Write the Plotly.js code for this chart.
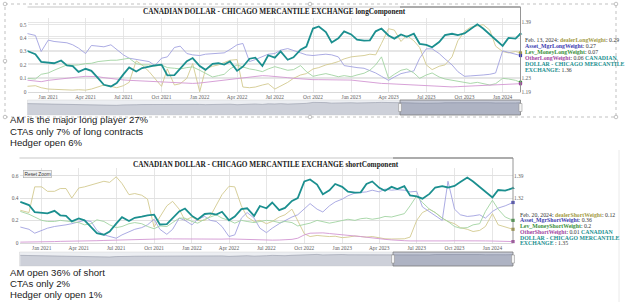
<!DOCTYPE html>
<html><head><meta charset="utf-8">
<script src="https://cdn.plot.ly/plotly-3.0.1.min.js"></script>
<style>html,body{margin:0;padding:0;background:#fff;}#chart{width:625px;height:302px;}</style>
</head><body><div id="chart"></div>
<script>
// ---------- data ----------
const dates = ['2020-11-10','2020-12-01','2020-12-15','2021-01-01','2021-01-15','2021-02-01','2021-02-15','2021-03-01','2021-03-15','2021-04-01','2021-04-15','2021-05-01','2021-05-15','2021-06-01','2021-06-15','2021-07-01','2021-07-15','2021-08-01','2021-08-15','2021-09-01','2021-09-15','2021-10-01','2021-10-15','2021-11-01','2021-11-15','2021-12-01','2021-12-15','2022-01-01','2022-01-15','2022-02-01','2022-02-15','2022-03-01','2022-03-15','2022-04-01','2022-04-15','2022-05-01','2022-05-15','2022-06-01','2022-06-15','2022-07-01','2022-07-15','2022-08-01','2022-08-15','2022-09-01','2022-09-15','2022-10-01','2022-10-15','2022-11-01','2022-11-15','2022-12-01','2022-12-15','2023-01-01','2023-01-15','2023-02-01','2023-02-15','2023-03-01','2023-03-15','2023-04-01','2023-04-15','2023-05-01','2023-05-15','2023-06-01','2023-06-15','2023-07-01','2023-07-15','2023-08-01','2023-08-15','2023-09-01','2023-09-15','2023-10-01','2023-10-15','2023-11-01','2023-11-15','2023-12-01','2023-12-15','2024-01-01','2024-01-15','2024-02-01'];
const longEndDate = '2024-02-13';
const shortEndDate = '2024-02-20';

// CANADIAN DOLLAR - CHICAGO MERCANTILE EXCHANGE (right axis)
const cad = [1.308,1.298,1.276,1.273,1.272,1.280,1.266,1.264,1.247,1.256,1.250,1.229,1.210,1.205,1.215,1.240,1.260,1.248,1.258,1.262,1.266,1.268,1.237,1.238,1.256,1.278,1.287,1.264,1.253,1.270,1.272,1.268,1.277,1.250,1.262,1.285,1.288,1.264,1.295,1.288,1.306,1.282,1.289,1.311,1.320,1.372,1.378,1.362,1.332,1.344,1.364,1.355,1.340,1.337,1.338,1.364,1.372,1.352,1.343,1.355,1.348,1.357,1.328,1.325,1.318,1.333,1.353,1.357,1.353,1.358,1.370,1.384,1.372,1.355,1.341,1.322,1.345,1.343];
const cadLongEnd = 1.357;
const cadShortEnd = 1.351;

// long component weights
const dealerLong = [0.04,0.045,0.03,0.02,0.018,0.015,0.012,0.012,0.015,0.012,0.02,0.035,0.05,0.04,0.03,0.045,0.07,0.23,0.2,0.15,0.1,0.04,0.17,0.05,0.06,0.1,0.21,0.0,0.17,0.19,0.2,0.215,0.235,0.24,0.035,0.03,0.035,0.05,0.06,0.02,0.04,0.07,0.1,0.125,0.135,0.17,0.18,0.2,0.21,0.225,0.245,0.26,0.265,0.27,0.28,0.275,0.36,0.47,0.46,0.375,0.42,0.38,0.33,0.2,0.165,0.19,0.2,0.26,0.38,0.45,0.48,0.49,0.5,0.46,0.34,0.3,0.29,0.3,0.29];
const assetLong = [0.435,0.42,0.30,0.385,0.375,0.37,0.365,0.35,0.325,0.285,0.345,0.34,0.335,0.35,0.315,0.275,0.25,0.24,0.232,0.225,0.195,0.25,0.26,0.33,0.34,0.285,0.275,0.27,0.28,0.285,0.285,0.29,0.315,0.35,0.36,0.225,0.24,0.265,0.28,0.285,0.31,0.322,0.31,0.29,0.275,0.27,0.275,0.28,0.275,0.26,0.195,0.185,0.18,0.175,0.16,0.14,0.115,0.085,0.11,0.135,0.145,0.155,0.25,0.32,0.32,0.285,0.245,0.2,0.15,0.115,0.118,0.12,0.125,0.13,0.14,0.305,0.295,0.28,0.27];
const levLong = [0.10,0.095,0.13,0.14,0.16,0.185,0.20,0.198,0.2,0.21,0.212,0.225,0.23,0.235,0.235,0.24,0.25,0.21,0.2,0.2,0.19,0.2,0.18,0.175,0.17,0.18,0.185,0.16,0.135,0.11,0.12,0.13,0.17,0.2,0.185,0.17,0.163,0.15,0.17,0.187,0.175,0.16,0.165,0.195,0.15,0.115,0.125,0.135,0.125,0.112,0.12,0.112,0.125,0.138,0.16,0.2,0.26,0.1,0.13,0.16,0.17,0.14,0.1,0.125,0.14,0.11,0.095,0.085,0.075,0.065,0.062,0.07,0.062,0.05,0.06,0.1,0.095,0.085,0.07];
const otherLong = [0.087,0.08,0.075,0.085,0.09,0.1,0.105,0.108,0.11,0.115,0.115,0.112,0.105,0.098,0.09,0.088,0.085,0.082,0.08,0.078,0.075,0.072,0.07,0.068,0.065,0.062,0.062,0.065,0.07,0.075,0.08,0.085,0.09,0.1,0.105,0.11,0.115,0.12,0.118,0.115,0.11,0.105,0.1,0.095,0.092,0.09,0.09,0.09,0.088,0.087,0.087,0.087,0.082,0.075,0.072,0.068,0.062,0.06,0.058,0.055,0.052,0.05,0.045,0.042,0.04,0.038,0.036,0.036,0.038,0.04,0.045,0.048,0.05,0.05,0.052,0.055,0.058,0.06,0.06];

// short component weights
const dealerShort = [0.29,0.27,0.5,0.5,0.46,0.46,0.485,0.485,0.4,0.49,0.5,0.515,0.53,0.55,0.54,0.59,0.53,0.43,0.44,0.425,0.39,0.14,0.23,0.33,0.37,0.3,0.2,0.23,0.2,0.2,0.24,0.34,0.43,0.505,0.5,0.33,0.23,0.19,0.2,0.17,0.19,0.23,0.25,0.3,0.2,0.08,0.055,0.065,0.06,0.055,0.058,0.045,0.05,0.06,0.055,0.05,0.055,0.045,0.035,0.033,0.033,0.035,0.05,0.2,0.27,0.3,0.27,0.22,0.19,0.17,0.135,0.12,0.1,0.11,0.145,0.26,0.16,0.14,0.12];
const assetShort = [0.14,0.12,0.085,0.11,0.13,0.145,0.15,0.16,0.17,0.19,0.2,0.19,0.11,0.07,0.055,0.04,0.07,0.1,0.12,0.135,0.16,0.21,0.12,0.075,0.12,0.22,0.2,0.16,0.21,0.235,0.2,0.19,0.145,0.055,0.07,0.22,0.27,0.22,0.13,0.09,0.13,0.17,0.2,0.23,0.25,0.3,0.35,0.3,0.275,0.33,0.365,0.39,0.42,0.445,0.45,0.455,0.47,0.455,0.48,0.47,0.475,0.47,0.455,0.46,0.32,0.28,0.24,0.2,0.55,0.3,0.25,0.235,0.24,0.25,0.22,0.28,0.31,0.33,0.36];
const levShort = [0.28,0.255,0.23,0.2,0.19,0.19,0.2,0.195,0.19,0.18,0.16,0.17,0.205,0.19,0.16,0.135,0.145,0.17,0.18,0.17,0.145,0.125,0.15,0.145,0.18,0.22,0.22,0.19,0.175,0.21,0.23,0.25,0.22,0.2,0.175,0.2,0.19,0.18,0.19,0.2,0.195,0.18,0.19,0.18,0.15,0.16,0.175,0.2,0.19,0.175,0.185,0.2,0.21,0.2,0.215,0.22,0.21,0.22,0.235,0.23,0.245,0.26,0.33,0.42,0.36,0.3,0.27,0.22,0.19,0.145,0.13,0.135,0.16,0.17,0.28,0.38,0.3,0.23,0.2];
const otherShort = [0.005,0.005,0.006,0.008,0.01,0.01,0.012,0.012,0.013,0.015,0.015,0.016,0.018,0.02,0.022,0.022,0.025,0.025,0.027,0.028,0.03,0.032,0.034,0.035,0.034,0.033,0.032,0.03,0.03,0.028,0.028,0.03,0.032,0.034,0.032,0.03,0.028,0.026,0.025,0.024,0.023,0.024,0.026,0.03,0.04,0.07,0.085,0.09,0.088,0.082,0.078,0.075,0.068,0.06,0.055,0.048,0.04,0.035,0.03,0.025,0.02,0.018,0.016,0.015,0.014,0.014,0.015,0.016,0.016,0.017,0.018,0.018,0.018,0.017,0.016,0.015,0.013,0.012,0.01];

const tickDates = ['2021-01-01','2021-04-01','2021-07-01','2021-10-01','2022-01-01','2022-04-01','2022-07-01','2022-10-01','2023-01-01','2023-04-01','2023-07-01','2023-10-01','2024-01-01'];
const tickLabels = ['Jan 2021','Apr 2021','Jul 2021','Oct 2021','Jan 2022','Apr 2022','Jul 2022','Oct 2022','Jan 2023','Apr 2023','Jul 2023','Oct 2023','Jan 2024'];
const longNotes = ['AM is the major long player 27%','CTAs only 7% of long contracts','Hedger open 6%'];
const shortNotes = ['AM open 36% of short','CTAs only 2%','Hedger only open 1%'];
const longTitle = 'CANADIAN DOLLAR - CHICAGO MERCANTILE EXCHANGE longComponent';
const shortTitle = 'CANADIAN DOLLAR - CHICAGO MERCANTILE EXCHANGE shortComponent';

// ---------- styling ----------
const W = 625, H = 302;
const px = x => x / W;
const py = y => 1 - y / H;
const C = {dealer:'#d3ca8e', asset:'#a2a2e0', lev:'#a2d4a2', other:'#d396d3', cad:'#1b8f8f'};
const T = {dealer:'#a39b45', asset:'#3b3bb0', lev:'#3a8f3a', other:'#a145a1', cad:'#1b8f8f'};
const serif = 'Liberation Serif, Times New Roman, serif';
const sans = 'Liberation Sans, Arial, sans-serif';
const r2 = v => String(Math.round(v * 100) / 100);

const longDates = dates.concat([longEndDate]);
const shortDates = dates.concat([shortEndDate]);
const cadLong = cad.concat([cadLongEnd]);
const cadShort = cad.concat([cadShortEnd]);

const traces = [];
function line(x, y, xa, ya, color, width) {
  traces.push({type:'scatter', mode:'lines', x:x, y:y, xaxis:xa, yaxis:ya,
    line:{color:color, width:width}, hoverinfo:'skip', showlegend:false});
}
function endMark(x, y, xa, ya, color, sym) {
  traces.push({type:'scatter', mode:'markers', x:[x[x.length-1]], y:[y[y.length-1]], xaxis:xa, yaxis:ya,
    marker:{color:color, size:3.2, symbol:sym}, hoverinfo:'skip', showlegend:false, cliponaxis:false});
}
// chart 1
line(longDates, dealerLong, 'x', 'y', C.dealer, 0.9);
line(longDates, assetLong, 'x', 'y', C.asset, 0.9);
line(longDates, levLong, 'x', 'y', C.lev, 0.9);
line(longDates, otherLong, 'x', 'y', C.other, 0.9);
line(longDates, cadLong, 'x', 'y2', C.cad, 1.8);
endMark(longDates, dealerLong, 'x', 'y', T.dealer, 'square');
endMark(longDates, assetLong, 'x', 'y', T.asset, 'square');
endMark(longDates, levLong, 'x', 'y', T.lev, 'square');
endMark(longDates, otherLong, 'x', 'y', T.other, 'square');
endMark(longDates, cadLong, 'x', 'y2', T.cad, 'triangle-up');
// chart 2
line(shortDates, dealerShort, 'x2', 'y3', C.dealer, 0.9);
line(shortDates, assetShort, 'x2', 'y3', C.asset, 0.9);
line(shortDates, levShort, 'x2', 'y3', C.lev, 0.9);
line(shortDates, otherShort, 'x2', 'y3', C.other, 0.9);
line(shortDates, cadShort, 'x2', 'y4', C.cad, 1.8);
endMark(shortDates, dealerShort, 'x2', 'y3', T.dealer, 'square');
endMark(shortDates, assetShort, 'x2', 'y3', T.asset, 'square');
endMark(shortDates, levShort, 'x2', 'y3', T.lev, 'square');
endMark(shortDates, otherShort, 'x2', 'y3', T.other, 'square');
endMark(shortDates, cadShort, 'x2', 'y4', T.cad, 'triangle-up');
// navigators
traces.push({type:'scatter', mode:'lines', x:longDates, y:cadLong, xaxis:'x3', yaxis:'y5', fill:'tozeroy',
  fillcolor:'rgba(185,189,200,0.6)', line:{color:'#959baa', width:0.6}, hoverinfo:'skip', showlegend:false});
traces.push({type:'scatter', mode:'lines', x:shortDates, y:cadShort, xaxis:'x4', yaxis:'y6', fill:'tozeroy',
  fillcolor:'rgba(185,189,200,0.6)', line:{color:'#959baa', width:0.6}, hoverinfo:'skip', showlegend:false});

const tickFont = {family:serif, size:5.4, color:'#606060'};
const grid = '#e0e0e0';
function xAx(dom, anchor, range) {
  return {domain:dom, anchor:anchor, type:'date', range:range, tickvals:tickDates, ticktext:tickLabels,
    tickfont:tickFont, showgrid:true, gridcolor:grid, gridwidth:0.8, zeroline:false, showline:true,
    linecolor:'#d0d0d0', linewidth:0.8, ticks:'', fixedrange:true, tickangle:0};
}
function navX(dom, anchor, range) {
  return {domain:dom, anchor:anchor, type:'date', range:range, visible:false, fixedrange:true};
}
const layout = {
  width:W, height:H, margin:{l:0, r:0, t:0, b:0}, paper_bgcolor:'#ffffff', plot_bgcolor:'rgba(0,0,0,0)',
  showlegend:false,
  xaxis: xAx([px(27.5), px(520.5)], 'y', ['2020-11-12', '2024-02-13']),
  yaxis: {domain:[py(92), py(18)], anchor:'x', range:[-0.002, 0.55], tickvals:[0,0.1,0.2,0.3,0.4,0.5],
    ticktext:['0','0.1','0.2','0.3','0.4','0.5'], tickfont:tickFont, showgrid:true, gridcolor:grid, gridwidth:0.8,
    zeroline:false, ticks:'', fixedrange:true},
  yaxis2: {overlaying:'y', anchor:'x', side:'right', range:[1.1891, 1.4024], tickvals:[1.19,1.23,1.27,1.31,1.35,1.39],
    ticktext:['1.19','1.23','','','','1.39'], tickfont:tickFont, showgrid:true, gridcolor:grid, gridwidth:0.8,
    zeroline:false, ticks:'', fixedrange:true},
  xaxis2: xAx([px(19.5), px(513)], 'y3', ['2020-11-08', '2024-02-20']),
  yaxis3: {domain:[py(243), py(168)], anchor:'x2', range:[-0.0027, 0.6688], tickvals:[0,0.2,0.4,0.6],
    ticktext:['0','0.2','0.4','0.6'], tickfont:tickFont, showgrid:true, gridcolor:grid, gridwidth:0.8,
    zeroline:false, ticks:'', fixedrange:true},
  yaxis4: {overlaying:'y3', anchor:'x2', side:'right', range:[1.1791, 1.4141], tickvals:[1.18,1.25,1.32,1.39],
    ticktext:['','','1.32','1.39'], tickfont:tickFont, showgrid:true, gridcolor:grid, gridwidth:0.8,
    zeroline:false, ticks:'', fixedrange:true},
  xaxis3: navX([px(27.5), px(520.5)], 'y5', ['2020-11-12', '2024-02-13']),
  yaxis5: {domain:[py(115), py(100)], anchor:'x3', range:[0.7, 1.5], visible:false, fixedrange:true},
  xaxis4: navX([px(19.5), px(513)], 'y6', ['2020-11-08', '2024-02-20']),
  yaxis6: {domain:[py(266), py(252)], anchor:'x4', range:[0.7, 1.5], visible:false, fixedrange:true},
  shapes: [], annotations: []
};

const S = layout.shapes, A = layout.annotations;
function rect(x0, y0, x1, y1, fill, lineColor, lw, layer, dash) {
  S.push({type:'rect', xref:'paper', yref:'paper', x0:px(x0), x1:px(x1), y0:py(y1), y1:py(y0),
    fillcolor:fill, line:{color:lineColor, width:lw, dash:dash || 'solid'}, layer:layer || 'above'});
}
function seg(x0, y0, x1, y1, color, lw, dash) {
  S.push({type:'line', xref:'paper', yref:'paper', x0:px(x0), x1:px(x1), y0:py(y0), y1:py(y1),
    line:{color:color, width:lw, dash:dash || 'solid'}, layer:'above'});
}
// chart 1 frame pieces
seg(27.5, 7, 520.5, 7, '#c8c8c8', 1.2);
seg(400, 7, 520.5, 7, '#777777', 1.2);
seg(520.5, 7, 520.5, 92, '#8a8a8a', 0.9);
rect(27.5, 100, 520.5, 115, '#eceef2', '#d4d4d4', 0.5, 'below');
rect(400, 100, 520.5, 115, 'rgba(95,105,140,0.28)', '#7a7a7a', 0.7, 'above');
rect(398.5, 103.5, 401.5, 111.5, '#f4f4f4', '#8a8a8a', 0.5, 'above');
rect(519, 103.5, 522, 111.5, '#f4f4f4', '#8a8a8a', 0.5, 'above');
// selection box (document frame) around chart 1
rect(5, 4, 616, 117, 'rgba(0,0,0,0)', '#a8a8a8', 0.7, 'above', 'dot');
[[5,4],[310,4],[616,4],[5,61],[616,61],[5,117],[310,117],[616,117]].forEach(p => {
  S.push({type:'circle', xref:'paper', yref:'paper', x0:px(p[0]-1.8), x1:px(p[0]+1.8), y0:py(p[1]+1.8), y1:py(p[1]-1.8),
    fillcolor:'#ffffff', line:{color:'#9a9a9a', width:0.6}, layer:'above'});
});
// chart 2 frame pieces
seg(19.5, 158, 513, 158, '#c8c8c8', 1.2);
seg(393, 158, 513, 158, '#777777', 1.2);
seg(513, 158, 513, 243, '#8a8a8a', 0.9);
rect(19.5, 252, 513, 266, '#eceef2', '#d4d4d4', 0.5, 'below');
rect(393, 252, 513, 266, 'rgba(95,105,140,0.28)', '#7a7a7a', 0.7, 'above');
rect(391.5, 255, 394.5, 263, '#f4f4f4', '#8a8a8a', 0.5, 'above');
rect(511.5, 255, 514.5, 263, '#f4f4f4', '#8a8a8a', 0.5, 'above');
seg(619, 150, 619, 302, '#e4e4e4', 0.8);

// titles
A.push({xref:'paper', yref:'paper', x:px(274.5), y:py(12), xanchor:'center', yanchor:'middle', showarrow:false,
  text:'<b>' + longTitle + '</b>', font:{family:serif, size:7.3, color:'#1a1a1a'}});
A.push({xref:'paper', yref:'paper', x:px(266), y:py(164), xanchor:'center', yanchor:'middle', showarrow:false,
  text:'<b>' + shortTitle + '</b>', font:{family:serif, size:7.3, color:'#1a1a1a'}});
// notes
const noteY1 = [119.5, 131, 142.5], noteY2 = [272.7, 283.3, 294];
longNotes.forEach((t, i) => A.push({xref:'paper', yref:'paper', x:px(7.5), y:py(noteY1[i]), xanchor:'left', yanchor:'middle',
  showarrow:false, text:t, font:{family:sans, size:9.6, color:'#222'}}));
shortNotes.forEach((t, i) => A.push({xref:'paper', yref:'paper', x:px(7.5), y:py(noteY2[i]), xanchor:'left', yanchor:'middle',
  showarrow:false, text:t, font:{family:sans, size:9.6, color:'#222'}}));
// tooltip-style readouts
const nm = (c, t) => '<b><span style="color:' + c + '">' + t + '</span></b>';
const L = longDates.length - 1, Ls = shortDates.length - 1;
const longLines = [
  'Feb. 13, 2024: ' + nm(T.dealer, 'dealerLongWeight') + ': ' + r2(dealerLong[L]),
  nm(T.asset, 'Asset_MgrLongWeight') + ': ' + r2(assetLong[L]),
  nm(T.lev, 'Lev_MoneyLongWeight') + ': ' + r2(levLong[L]),
  nm(T.other, 'OtherLongWeight') + ': ' + r2(otherLong[L]) + ' ' + nm(T.cad, 'CANADIAN'),
  nm(T.cad, 'DOLLAR - CHICAGO MERCANTILE'),
  nm(T.cad, 'EXCHANGE') + ': ' + r2(cadLong[L])
];
const shortLines = [
  'Feb. 20, 2024: ' + nm(T.dealer, 'dealerShortWeight') + ': ' + r2(dealerShort[Ls]),
  nm(T.asset, 'Asset_MgrShortWeight') + ': ' + r2(assetShort[Ls]),
  nm(T.lev, 'Lev_MoneyShortWeight') + ': ' + r2(levShort[Ls]),
  nm(T.other, 'OtherShortWeight') + ': ' + r2(otherShort[Ls]) + ' ' + nm(T.cad, 'CANADIAN'),
  nm(T.cad, 'DOLLAR - CHICAGO MERCANTILE'),
  nm(T.cad, 'EXCHANGE') + ' : ' + r2(cadShort[Ls])
];
const ly1 = [40, 46.2, 52.3, 58.4, 64.4, 70.4], ly2 = [214.5, 220.4, 226.2, 232, 237.7, 243.3];
longLines.forEach((t, i) => A.push({xref:'paper', yref:'paper', x:px(522.5), y:py(ly1[i]), xanchor:'left', yanchor:'middle',
  showarrow:false, text:t, font:{family:serif, size:5.8, color:'#333'}}));
shortLines.forEach((t, i) => A.push({xref:'paper', yref:'paper', x:px(517.5), y:py(ly2[i]), xanchor:'left', yanchor:'middle',
  showarrow:false, text:t, font:{family:serif, size:5.8, color:'#333'}}));
// reset zoom button
A.push({xref:'paper', yref:'paper', x:px(37), y:py(174), xanchor:'center', yanchor:'middle', showarrow:false,
  text:'Reset Zoom', font:{family:sans, size:4.8, color:'#333'}, bgcolor:'#f2f2f2', bordercolor:'#a8a8a8',
  borderwidth:0.6, borderpad:0.9});

Plotly.newPlot('chart', traces, layout, {staticPlot:true, displayModeBar:false});
</script>
</body></html>
